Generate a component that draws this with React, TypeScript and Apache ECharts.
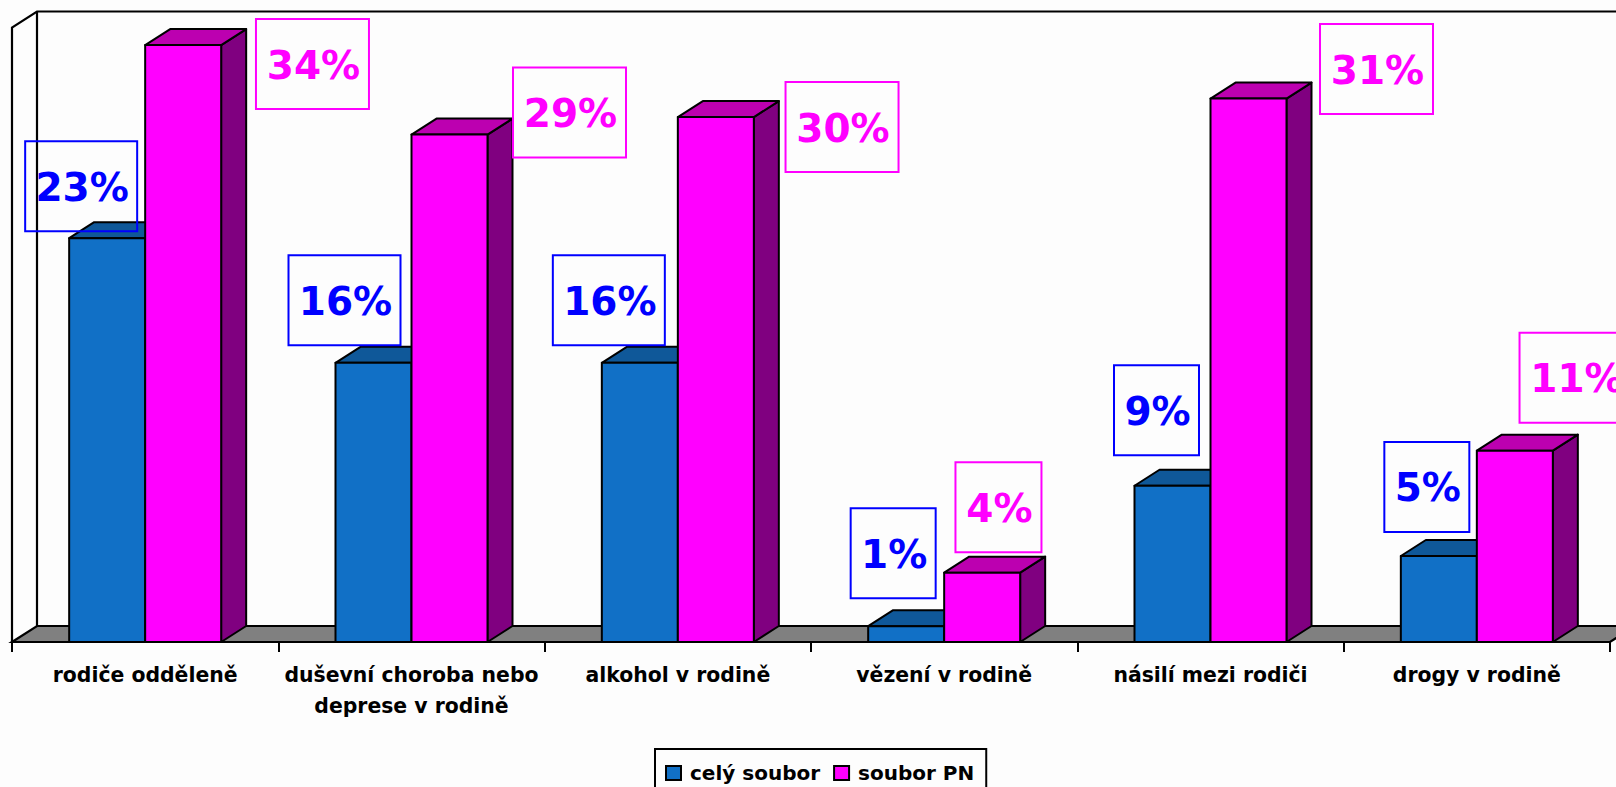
import React, { useEffect, useRef } from "react";
import * as echarts from "echarts";

const categories = [
  "rodiče odděleně",
  "duševní choroba nebo\ndeprese v rodině",
  "alkohol v rodině",
  "vězení v rodině",
  "násilí mezi rodiči",
  "drogy v rodině",
];
const seriesNames = ["celý soubor", "soubor PN"];
const celySoubor = [23, 15.9, 15.9, 0.9, 8.9, 4.9];
const souborPN = [34, 28.9, 29.9, 3.95, 30.95, 10.9];
const celyLabels = ["23%", "16%", "16%", "1%", "9%", "5%"];
const pnLabels = ["34%", "29%", "30%", "4%", "31%", "11%"];

// Manually placed label boxes: centre offset from the top-centre of the category's bar pair, in pixels
const celyBoxOffset = [[-64, -52], [-67, -62.5], [-69, -62.5], [-51, -73], [-54, -75.5], [-50, -69]];
const pnBoxOffset = [[167.3, 19], [158, -22], [164.2, 10], [54.3, -65.5], [166, -29.6], [99.2, -72.8]];
const celyBoxWidth = [112, 112, 112, 85, 85, 85];
const pnBoxWidth = [113, 113, 113, 86, 113, 113];

const DEPTH_X = 25;
const DEPTH_Y = 16;
const BAR_RATIO = 76 / 266.33;
const FONT = "DejaVu Sans";

function barRenderer(
  seriesIndex: number,
  front: string,
  top: string,
  side: string,
  labelColor: string,
  labels: string[],
  offsets: number[][],
  widths: number[],
) {
  return (_p: any, api: any) => {
    const idx = api.value(0);
    const val = api.value(1);
    const [cx, yTop] = api.coord([idx, val]);
    const [, yBase] = api.coord([idx, 0]);
    const w = api.size([1, 0])[0] * BAR_RATIO;
    const x0 = seriesIndex === 0 ? cx - w : cx;
    const x1 = x0 + w;
    const stroke = { stroke: "#000", lineWidth: 2, lineJoin: "round" };
    const boxCx = cx + offsets[idx][0];
    const boxCy = yTop + offsets[idx][1];
    const bw = widths[idx];
    const bh = 90;
    return {
      type: "group",
      children: [
        {
          type: "polygon",
          shape: { points: [[x1, yTop], [x1 + DEPTH_X, yTop - DEPTH_Y], [x1 + DEPTH_X, yBase - DEPTH_Y], [x1, yBase]] },
          style: { fill: side, ...stroke },
        },
        {
          type: "polygon",
          shape: { points: [[x0, yTop], [x0 + DEPTH_X, yTop - DEPTH_Y], [x1 + DEPTH_X, yTop - DEPTH_Y], [x1, yTop]] },
          style: { fill: top, ...stroke },
        },
        {
          type: "rect",
          shape: { x: x0, y: yTop, width: w, height: yBase - yTop },
          style: { fill: front, ...stroke },
        },
        {
          type: "rect",
          shape: { x: boxCx - bw / 2, y: boxCy - bh / 2, width: bw, height: bh },
          style: { fill: "none", stroke: labelColor, lineWidth: 2 },
        },
        {
          type: "text",
          style: {
            text: labels[idx],
            x: boxCx + 1,
            y: boxCy + 1,
            align: "center",
            verticalAlign: "middle",
            fill: labelColor,
            fontFamily: FONT,
            fontWeight: "bold",
            fontSize: 39,
          },
        },
      ],
    };
  };
}

function wallRenderer(params: any, _api: any) {
  const c = params.coordSys;
  const l = c.x;
  const r = c.x + c.width;
  const t = c.y;
  const b = c.y + c.height;
  const line = { stroke: "#000", lineWidth: 2.2, fill: "none" };
  return {
    type: "group",
    children: [
      {
        type: "polygon",
        shape: { points: [[l, b], [l + DEPTH_X, b - DEPTH_Y], [r + DEPTH_X, b - DEPTH_Y], [r, b]] },
        style: { fill: "#808080", stroke: "#000", lineWidth: 2.2 },
      },
      {
        type: "polyline",
        shape: { points: [[l, b], [l, t], [l + DEPTH_X, t - DEPTH_Y], [r + DEPTH_X, t - DEPTH_Y]] },
        style: line,
      },
      {
        type: "line",
        shape: { x1: l + DEPTH_X, y1: t - DEPTH_Y, x2: l + DEPTH_X, y2: b - DEPTH_Y },
        style: line,
      },
    ],
  };
}

export default function App() {
  const ref = useRef<HTMLDivElement>(null);
  useEffect(() => {
    const chart = echarts.init(ref.current!, undefined, { renderer: "svg" });
    chart.setOption({
      animation: false,
      backgroundColor: "#fdfdfd",
      grid: { left: 12, right: 6, top: 27.5, bottom: 145 },
      xAxis: {
        type: "category",
        data: categories,
        boundaryGap: true,
        axisLine: { show: true, lineStyle: { color: "#000", width: 2 } },
        axisTick: { show: true, length: 10, alignWithLabel: false, lineStyle: { color: "#000", width: 2 } },
        axisLabel: {
          interval: 0,
          margin: 17,
          color: "#000",
          fontFamily: FONT,
          fontWeight: "bold",
          fontSize: 20.4,
          lineHeight: 31,
        },
      },
      yAxis: { type: "value", min: 0, max: 35, show: false },
      legend: {
        left: 655,
        top: 749,
        data: seriesNames,
        orient: "horizontal",
        padding: [14, 12, 12, 10],
        itemWidth: 15,
        itemHeight: 14,
        itemGap: 13,
        borderColor: "#000",
        borderWidth: 2,
        icon: "rect",
        selectedMode: false,
        textStyle: { color: "#000", fontFamily: FONT, fontWeight: "bold", fontSize: 20, padding: [0, 0, 0, 4] },
      },
      series: [
        {
          type: "custom",
          name: "walls",
          silent: true,
          renderItem: wallRenderer,
          data: [[0, 0]],
          encode: { x: 0, y: 1 },
          z: 1,
        },
        {
          type: "custom",
          name: seriesNames[0],
          itemStyle: { color: "#1170C6", borderColor: "#000", borderWidth: 2 },
          renderItem: barRenderer(0, "#1170C6", "#0F5899", "#0B3F70", "#0000FF", celyLabels, celyBoxOffset, celyBoxWidth),
          data: celySoubor.map((v, i) => [i, v]),
          encode: { x: 0, y: 1 },
          z: 2,
        },
        {
          type: "custom",
          name: seriesNames[1],
          itemStyle: { color: "#FF00FF", borderColor: "#000", borderWidth: 2 },
          renderItem: barRenderer(1, "#FF00FF", "#BC00B0", "#800080", "#FF00FF", pnLabels, pnBoxOffset, pnBoxWidth),
          data: souborPN.map((v, i) => [i, v]),
          encode: { x: 0, y: 1 },
          z: 3,
        },
      ],
    });
    return () => chart.dispose();
  }, []);
  return (
    <div
      ref={ref}
      style={{ position: "absolute", left: 0, top: 0, width: 1616, height: 787, overflow: "hidden" }}
    />
  );
}
